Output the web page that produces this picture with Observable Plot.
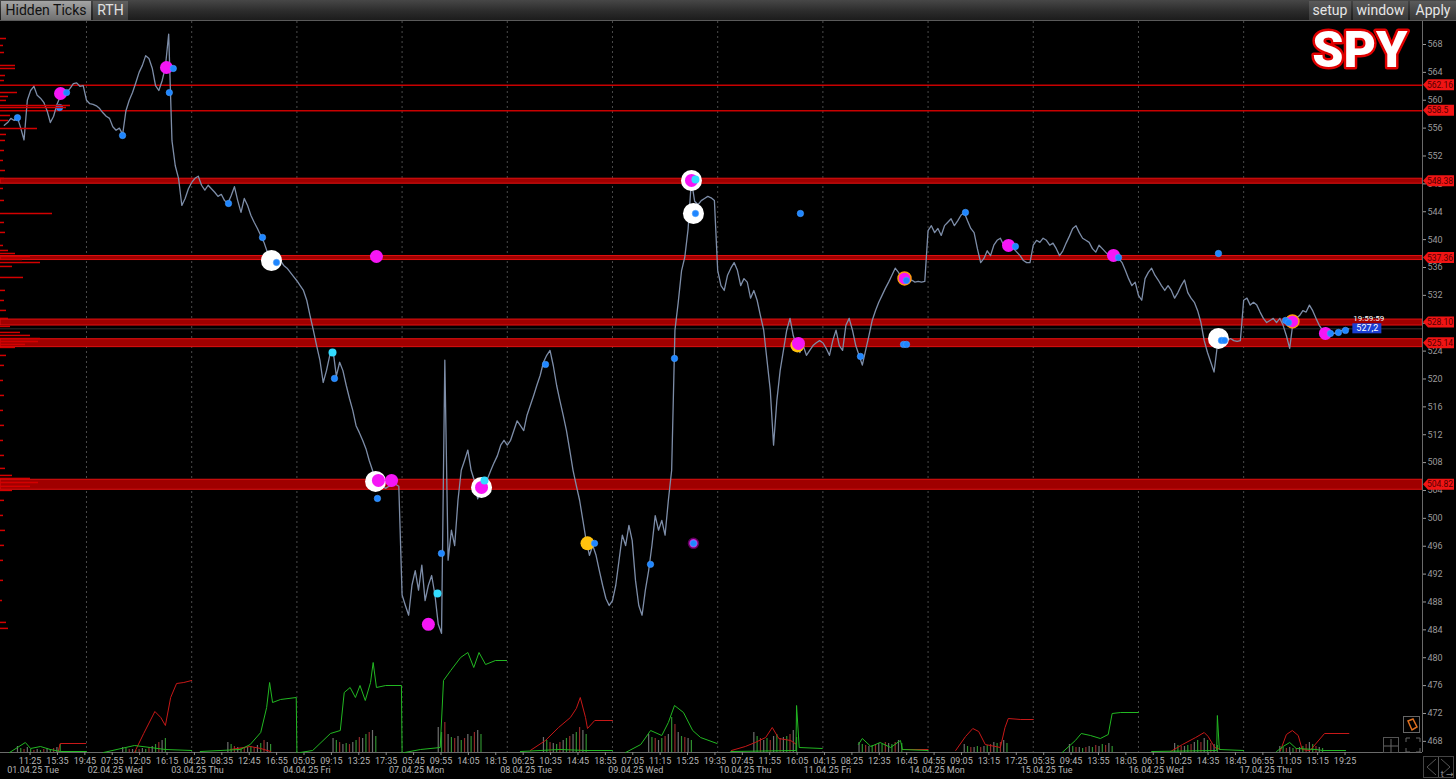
<!DOCTYPE html>
<html><head><meta charset="utf-8">
<script src="https://cdn.jsdelivr.net/npm/d3@7"></script>
<script src="https://cdn.jsdelivr.net/npm/@observablehq/plot@0.6"></script>
<style>
html,body{margin:0;padding:0;background:#000;width:1456px;height:779px;overflow:hidden;font-family:Roboto,"DejaVu Sans",sans-serif;}
#bar{position:absolute;left:0;top:0;width:1456px;height:21px;background:linear-gradient(#474747,#2c2c2c 55%,#1c1c1c);border-bottom:1px solid #5a5a5a;box-sizing:border-box;}
.tab{position:absolute;top:1px;height:19px;line-height:19px;font-size:14px;box-sizing:border-box;text-align:center;white-space:nowrap;}
#t1{left:1px;width:90px;background:linear-gradient(#a4a4a4,#707070);color:#111;}
#t2{left:93px;width:35px;background:linear-gradient(#606060,#3a3a3a);color:#e0e0e0;}
.btn{background:linear-gradient(#5a5a5a,#383838);color:#e6e6e6;}
#b1{left:1309px;width:42px;}#b2{left:1353px;width:55px;}#b3{left:1410px;width:46px;}
#chart{position:absolute;left:0;top:21px;width:1456px;height:758px;}
#chart svg{position:absolute;left:0;top:0;}
.ico{position:absolute;border:1px solid #666;box-sizing:border-box;}
</style></head>
<body>
<div id="bar">
<div class="tab" id="t1">Hidden Ticks</div>
<div class="tab" id="t2">RTH</div>
<div class="tab btn" id="b1">setup</div>
<div class="tab btn" id="b2">window</div>
<div class="tab btn" id="b3">Apply</div>
</div>
<div id="chart"></div>
<div class="ico" style="left:1403px;top:716px;width:17px;height:17px;"><svg width="15" height="15"><path d="M4 4 L9 2 L13 10 L8 13 Z" fill="none" stroke="#e07020" stroke-width="1.5"/></svg></div>
<div class="ico" style="left:1383px;top:737px;width:16px;height:16px;border-color:#555;"><svg width="14" height="14"><path d="M7 0V14M0 7H14" stroke="#666"/></svg></div>
<div style="position:absolute;left:1405px;top:737px;"><svg width="16" height="16"><path d="M1 5V1H5M11 1H15V5M15 11V15H11M5 15H1V11" fill="none" stroke="#666"/></svg></div>
<div class="ico" style="left:1423px;top:756px;width:31px;height:22px;border-color:#444;"><svg width="29" height="20"><path d="M12 2L3 10L12 18M17 2L26 10L17 18M14.5 0V20" fill="none" stroke="#555"/></svg></div>
<script>
// ---------- DATA ----------
const DAY_LABELS = ["01.04.25 Tue","02.04.25 Wed","03.04.25 Thu","04.04.25 Fri","07.04.25 Mon","08.04.25 Tue","09.04.25 Wed","10.04.25 Thu","11.04.25 Fri","14.04.25 Mon","15.04.25 Tue","16.04.25 Wed","17.04.25 Thu"];
const TICK_TIMES = [
 ["11:25","15:35","19:45"],
 ["07:55","12:05","16:15"],
 ["04:25","08:35","12:45","16:55"],
 ["05:05","09:15","13:25","17:35"],
 ["05:45","09:55","14:05","18:15"],
 ["06:25","10:35","14:45","18:55"],
 ["07:05","11:15","15:25","19:35"],
 ["07:45","11:55","16:05"],
 ["04:15","08:25","12:35","16:45"],
 ["04:55","09:05","13:15","17:25"],
 ["05:35","09:45","13:55","18:05"],
 ["06:15","10:25","14:35","18:45"],
 ["06:55","11:05","15:15","19:25"]
];
const Y_TICKS = [468,472,476,480,484,488,492,496,500,504,508,512,516,520,524,528,532,536,540,544,548,552,556,560,564,568];

// SPY price, every 30 minutes of the 04:00-20:00 session, one row per trading day
const PRICE = [
 [null,null,null,null,null,null,null,556.4,556.8,557.4,557.1,557.5,556.0,554.3,560.0,561.4,562.0,560.7,560.3,559.7,558.5,556.8,557.7,559.4,560.5,560.8,561.1,561.7,562.4,562.5,562.0,562.1],
 [560.0,559.5,559.4,559.2,558.8,558.2,557.7,557.4,556.2,555.7,556.0,555.1,558.5,560.0,561.1,562.5,564.0,565.0,566.4,566.0,564.6,562.1,561.4,562.8,564.8,569.5,554.2,550.6,548.8,544.9,545.9,547.3],
 [548.2,548.8,549.1,547.8,547.1,547.8,547.3,546.8,546.2,546.5,545.6,545.2,546.3,547.6,545.6,543.9,545.9,544.9,543.5,542.5,541.6,540.6,539.6,538.2,537.3,536.7,537.3,537.0,536.3,535.9,535.3,534.7],
 [534.1,533.4,532.7,531.3,529.1,527.0,524.8,522.7,519.5,521.2,523.4,524.1,520.4,522.4,521.2,519.1,517.2,515.5,513.3,512.3,511.2,510.0,508.3,506.9,505.2,504.0,504.6,504.3,504.6,504.7,504.9,504.6],
 [489.0,487.5,486.1,490.4,492.5,489.7,493.3,488.2,490.4,491.8,489.0,484.8,483.5,522.7,494.0,498.3,496.1,502.6,506.9,508.3,509.8,506.9,505.4,502.8,504.2,503.5,505.7,506.9,508.0,509.0,510.5,511.2],
 [510.5,511.2,512.6,514.0,513.3,512.6,514.8,516.2,517.6,519.1,520.5,522.4,523.4,524.1,521.9,519.1,516.9,514.8,512.6,509.8,506.9,504.7,502.6,499.7,496.8,494.7,496.1,494.7,492.5,490.4,488.5,487.5],
 [488.2,490.4,494.0,497.6,496.1,499.0,496.8,491.1,487.5,486.1,489.7,492.5,496.1,500.4,498.3,499.7,497.6,502.6,506.9,527.0,531.0,535.5,537.5,541.5,548.5,545.5,545.0,545.6,545.9,546.2,546.0,545.6],
 [535.6,533.4,532.7,534.9,535.9,536.7,535.6,533.4,534.4,533.9,531.6,532.7,531.3,529.1,527.0,522.7,518.4,510.5,516.9,521.2,524.1,527.0,528.7,526.2,524.8,523.8,524.8,523.4,524.1,524.8,525.2,525.5],
 [525.2,524.4,523.4,525.5,527.0,524.8,524.1,527.7,528.7,527.0,524.8,523.4,522.0,524.1,526.2,528.4,529.8,531.0,532.0,533.0,533.9,534.9,535.9,535.3,534.4,533.9,533.7,534.2,533.9,534.0,533.9,534.0],
 [541.3,542.0,541.0,541.6,540.6,542.0,542.5,543.0,542.0,542.7,543.5,543.9,542.7,541.6,541.0,538.7,536.7,537.3,538.4,537.7,539.2,539.9,540.2,539.2,538.7,539.2,538.7,538.2,537.7,537.0,536.7,536.7],
 [539.2,539.9,539.6,540.2,539.9,539.2,539.5,538.7,537.7,538.4,539.5,540.5,541.6,542.0,541.0,540.2,539.9,539.6,538.7,538.2,539.2,538.7,538.2,537.7,537.9,537.6,537.3,536.7,535.6,534.4,533.4,533.9],
 [532.0,531.3,534.4,535.3,535.9,534.9,534.2,533.4,532.7,533.4,532.7,531.6,532.4,533.4,534.2,532.4,531.6,531.0,529.8,528.1,525.5,523.8,522.4,521.0,524.8,525.5,525.8,525.5,525.8,525.5,525.4,525.5],
 [531.3,531.6,530.6,531.0,530.6,529.6,528.7,528.1,528.4,528.7,528.1,528.7,527.7,526.2,524.4,528.1,528.7,529.1,529.8,529.6,530.6,529.8,528.7,527.7,527.0,527.3,527.0,526.5,526.6,526.8,527.0,527.2,527.2]
];
const LAST_TIME = "19:59:59";
const LAST_PRICE = 527.2;

// horizontal levels (value, half-width of the zone)
const LEVELS = [562.16, 558.5, 548.38, 537.36, 528.10, 525.14, 504.82];
const LEVEL_HALF = [0.1, 0.1, 0.36, 0.29, 0.43, 0.57, 0.72];
const LEVEL_LABELS = ["562.16","558.5","548.38","537.36","528.10","525.14","504.82"];

// cumulative delta lines in the lower panel: [day, time, value]
const GREEN = [
 [0,"08:18",0],[0,"10:42",10],[0,"11:30",4],[0,"13:00",6],[0,"14:30",3],[0,"16:00",1],[0,"20:00",1],
 [1,"06:36",0],[1,"11:18",7],[1,"13:42",5],[1,"16:00",3],[1,"20:00",2],
 [2,"05:18",1],[2,"11:24",3],[2,"12:54",8],[2,"14:30",20],[2,"15:24",45],[2,"15:51",70],[2,"16:18",50],[2,"17:30",53],[2,"19:54",55],[2,"20:00",0],
 [3,"04:30",0],[3,"06:24",2],[3,"09:06",19],[3,"10:36",22],[3,"11:12",60],[3,"12:06",65],[3,"12:54",55],[3,"13:36",67],[3,"14:24",52],[3,"15:12",70],[3,"15:36",90],[3,"16:06",65],[3,"17:30",67],[3,"19:54",67],[3,"20:00",0],
 [4,"04:24",0],[4,"06:48",3],[4,"09:48",5],[4,"10:18",72],[4,"11:24",82],[4,"12:54",95],[4,"14:00",100],[4,"14:54",85],[4,"15:42",100],[4,"16:42",88],[4,"18:12",92],[4,"19:54",92],
 [5,"06:00",1],[5,"12:00",3],[5,"16:00",2],[5,"20:00",2],
 [6,"06:00",0],[6,"08:18",8],[6,"09:48",22],[6,"11:30",17],[6,"12:30",30],[6,"13:26",47],[6,"14:48",40],[6,"16:12",22],[6,"17:24",15],[6,"19:54",9],
 [7,"06:00",1],[7,"15:54",2],[7,"16:00",47],[7,"16:24",5],[7,"19:54",4],
 [8,"09:24",8],[8,"10:00",14],[8,"11:18",6],[8,"12:42",10],[8,"14:18",5],[8,"15:48",12],[8,"16:06",3],[8,"20:00",2],
 [10,"08:24",0],[10,"10:24",12],[10,"11:18",19],[10,"12:42",17],[10,"14:12",14],[10,"15:24",18],[10,"16:00",39],[10,"17:18",40],[10,"20:00",40],
 [11,"06:00",1],[11,"15:54",2],[11,"16:00",37],[11,"16:18",3],[11,"20:00",2],
 [12,"09:00",1],[12,"10:00",6],[12,"11:00",10],[12,"12:00",4],[12,"15:00",3],[12,"16:00",2],[12,"19:30",2]
];
const RED = [
 [0,"15:42",1],[0,"16:00",9],[0,"19:54",9],
 [1,"11:18",0],[1,"12:42",19],[1,"14:24",41],[1,"15:18",35],[1,"16:00",27],[1,"16:48",55],[1,"17:42",69],[1,"18:48",70],[1,"20:00",72],
 [2,"09:54",3],[2,"12:54",6],[2,"14:30",4],[2,"16:00",1],
 [5,"07:30",2],[5,"09:48",12],[5,"11:48",25],[5,"13:36",35],[5,"14:30",44],[5,"15:06",55],[5,"15:54",35],[5,"16:12",24],[5,"17:18",32],[5,"20:00",32],
 [7,"06:06",2],[7,"08:12",6],[7,"09:42",10],[7,"11:18",15],[7,"12:18",25],[7,"13:18",14],[7,"15:06",12],[7,"16:00",8],
 [8,"16:06",3],[8,"20:00",3],
 [9,"08:12",2],[9,"09:42",16],[9,"10:48",24],[9,"11:42",21],[9,"12:42",8],[9,"15:00",5],[9,"15:42",25],[9,"16:12",34],[9,"18:06",33],[9,"20:00",33],
 [11,"08:54",1],[11,"10:42",8],[11,"12:42",15],[11,"14:00",20],[11,"14:36",16],[11,"15:36",5],[11,"16:30",3],
 [12,"09:36",2],[12,"10:30",18],[12,"11:24",22],[12,"12:18",17],[12,"12:54",3],[12,"14:06",2],[12,"16:18",19],[12,"20:00",19]
];
// regular-session volume per 30 minutes (09:30 ... 16:00), one row per day
const VOL_BARS = [
 [6,4,3,5,3,2,3,2,3,4,3,4,5,8],
 [5,4,3,3,2,3,4,3,5,6,8,10,12,14],
 [10,8,6,5,4,4,5,6,5,7,9,12,10,8],
 [14,12,10,8,9,8,10,12,15,14,18,20,22,16],
 [25,20,30,18,15,14,16,12,14,18,16,20,22,18],
 [15,12,10,9,8,10,12,14,16,18,20,25,22,18],
 [18,15,14,12,14,16,18,35,28,20,16,15,14,12],
 [20,16,14,12,14,12,16,18,14,15,16,18,22,15],
 [10,8,7,6,7,8,9,8,10,9,8,10,12,9],
 [8,6,5,5,6,5,6,7,8,10,9,10,12,9],
 [8,6,5,5,4,5,6,5,7,6,8,7,9,6],
 [9,7,6,6,7,8,10,12,10,14,12,9,8,7],
 [6,5,4,5,4,4,5,6,8,10,8,6,5,4]
];

// signal markers: [kind, day, time, price]
const MARKERS = [
 ["white",2,"16:08",537.0],["white",3,"15:58",505.3],["white",4,"16:05",504.44],["white",6,"16:01",548.49],["white",6,"16:19",543.75],["white",11,"16:10",525.82],
 ["yellow",5,"16:12",496.41],["yellow",7,"16:08",524.82],
 ["magenta",0,"16:03",560.97],["magenta",1,"16:10",564.7],["magenta",3,"16:06",537.58],["magenta",3,"16:24",505.45],["magenta",3,"18:24",505.45],
 ["magenta",4,"08:00",484.79],["magenta",4,"16:05",504.44],["magenta",6,"16:01",548.49],["magenta",7,"16:17",525.1],
 ["magenta",9,"16:14",539.16],["magenta",10,"16:12",537.73],["magenta",12,"16:26",526.54],
 ["magentaRing",8,"16:25",534.43],["magentaRing",12,"11:25",528.26],
 ["magentaDark",6,"16:19",496.41],
 ["cyan",3,"09:25",523.81],["cyan",4,"09:23",489.23],["cyan",4,"16:32",505.45],["cyan",6,"16:37",548.63],
 ["blue",0,"09:30",557.5],["blue",0,"16:58",561.1],["blue",0,"15:54",558.96],
 ["blue",1,"09:29",554.94],["blue",1,"17:12",564.56],["blue",1,"16:36",561.1],
 ["blue",2,"09:36",545.19],["blue",2,"14:46",540.31],["blue",2,"16:54",536.72],
 ["blue",3,"09:43",520.08],["blue",3,"16:15",502.86],
 ["blue",4,"09:59",494.97],
 ["blue",5,"09:49",522.09],["blue",5,"17:16",496.41],
 ["blue",6,"09:47",493.4],["blue",6,"13:26",522.95],["blue",6,"16:37",543.75],["blue",6,"16:19",496.41],
 ["blue",7,"16:35",543.75],
 ["blue",8,"09:43",523.24],["blue",8,"16:42",534.14],["blue",8,"16:16",524.96],["blue",8,"16:43",524.96],
 ["blue",9,"09:41",543.9],["blue",9,"17:17",539.02],
 ["blue",10,"16:58",537.44],
 ["blue",11,"16:10",538.01],["blue",11,"16:37",525.53],["blue",11,"17:05",525.53],
 ["blue",12,"10:22",528.4],["blue",12,"10:49",528.1],["blue",12,"17:12",526.54],["blue",12,"18:25",526.68],["blue",12,"19:29",526.97]
];

// volume profile on the left edge
const PROFILE_PRICE = [568.86,567.86,566.85,564.99,564.56,563.55,562.83,561.11,560.54,559.97,559.25,558.96,557.81,557.10,555.95,555.09,554.23,552.79,551.36,549.92,548.77,547.34,545.62,543.75,542.46,541.03,539.16,538.44,538.01,537.58,537.15,536.72,536.15,534.57,532.71,531.27,529.84,528.69,527.54,526.68,526.25,525.82,525.39,524.96,524.53,523.38,521.95,519.79,517.64,515.49,513.34,511.18,509.03,507.17,506.16,505.73,505.16,504.59,504.01,502.58,500.42,498.27,496.12,493.97,491.10,488.23,485.07,484.21];
const PROFILE_VOL = [6,3,4,15,15,5,4,17,8,6,70,66,10,8,37,6,5,4,3,5,4,3,4,52,4,5,3,8,15,30,22,40,12,23,5,4,6,8,10,20,30,40,38,25,15,6,4,3,4,3,4,3,4,5,12,30,38,30,12,4,3,5,4,3,3,2,6,8];

// ---------- BUILD ----------
const SESSION_START = 4, SESSION_HOURS = 16;
function tt(day, hhmm) {
  const [h, m, s] = hhmm.split(":").map(Number);
  return day + (h + m / 60 + (s || 0) / 3600 - SESSION_START) / SESSION_HOURS;
}
const priceData = [];
PRICE.forEach((row, d) => row.forEach((p, j) => { if (p != null) priceData.push({t: d + (j * 0.5) / SESSION_HOURS, p}); }));
const tickData = [];
TICK_TIMES.forEach((row, d) => row.forEach((s, i) => tickData.push({t: tt(d, s), label: s, date: i === 0 ? DAY_LABELS[d] : ""})));
const daySeps = DAY_LABELS.slice(1).map((_, i) => i + 1);
const levels = LEVELS.map((v, i) => ({v, h: LEVEL_HALF[i], label: LEVEL_LABELS[i]}));
const thin = levels.filter(d => d.h <= 0.1), bands = levels.filter(d => d.h > 0.1);
const toSeries = arr => arr.map(([d, s, v]) => ({d, t: tt(d, s), v}));
const green = toSeries(GREEN), red = toSeries(RED);
const volBars = [];
VOL_BARS.forEach((row, d) => row.forEach((v, i) => volBars.push({t: d + (5.5 + 0.5 * i) / SESSION_HOURS, v, c: i % 3})));
const markers = MARKERS.map(([k, d, s, p]) => ({k, t: tt(d, s), p}));
const byKind = k => markers.filter(m => m.k === k);
const profile = PROFILE_PRICE.map((p, i) => ({p, v: PROFILE_VOL[i]}));

const W = 1456, H = 758, MR = 34, MB = 27;
const xDomain = [0.1825, 13.70];
const yDomain = [466.4, 571.3];
const FONT = "Roboto, 'DejaVu Sans', sans-serif";

const main = Plot.plot({
  width: W, height: H, marginLeft: 0, marginRight: MR, marginTop: 0, marginBottom: MB,
  x: {domain: xDomain}, y: {domain: yDomain},
  style: {background: "#000", color: "#a8a8a8", fontFamily: FONT, fontSize: "9px", overflow: "visible"},
  marks: [
    Plot.ruleX(daySeps, {stroke: "#4a4a4a", strokeDasharray: "2,3"}),
    Plot.ruleY([LAST_PRICE], {stroke: "#2e2e2e"}),
    Plot.ruleY(thin, {y: "v", stroke: "#c80000", strokeWidth: 1.5}),
    Plot.rect(bands, {y1: d => d.v - d.h, y2: d => d.v + d.h, fill: "#a00000", stroke: "#e01010", strokeWidth: 1}),
    Plot.line(priceData, {x: "t", y: "p", stroke: "#7d8da8", strokeWidth: 1.3}),
    Plot.dot(byKind("white"), {x: "t", y: "p", r: 10.5, fill: "#ffffff"}),
    Plot.dot(byKind("yellow"), {x: "t", y: "p", r: 7, fill: "#ffc20e"}),
    Plot.dot(byKind("magenta"), {x: "t", y: "p", r: 6.5, fill: "#f516f5"}),
    Plot.dot(byKind("magentaRing"), {x: "t", y: "p", r: 6.5, fill: "#f516f5", stroke: "#ff9a10", strokeWidth: 1.5}),
    Plot.dot(byKind("magentaDark"), {x: "t", y: "p", r: 5, fill: "#d618d6", stroke: "#5a005a", strokeWidth: 1.5}),
    Plot.dot(byKind("cyan"), {x: "t", y: "p", r: 4, fill: "#33dcff"}),
    Plot.dot(byKind("blue"), {x: "t", y: "p", r: 3.2, fill: "#1f86ff", stroke: "#4aa0ff", strokeWidth: 0.6}),
    Plot.ruleX([xDomain[1]], {stroke: "#6a6a6a"}),
    Plot.ruleY([yDomain[0]], {stroke: "#6a6a6a"}),
    Plot.axisY({anchor: "right", ticks: Y_TICKS, tickSize: 3, tickPadding: 2, color: "#9a9a9a", fontSize: 9}),
    Plot.axisX({ticks: tickData.map(d => d.t), tickSize: 3, tickFormat: () => "", color: "#8a8a8a"}),
    Plot.text(tickData, {x: "t", text: "label", frameAnchor: "bottom", dy: 11, fill: "#b4b4b4", fontSize: 9}),
    Plot.text(tickData, {x: "t", text: "date", frameAnchor: "bottom", dy: 20, dx: 3, fill: "#b4b4b4", fontSize: 9}),
    Plot.text(["SPY"], {frameAnchor: "top-right", dx: -15, dy: 10, lineAnchor: "top", fontSize: 50, fontWeight: 900,
      fill: "#ffffff", stroke: "#e00000", strokeWidth: 5, paintOrder: "stroke"})
  ]
});

const vol = Plot.plot({
  width: W, height: H, marginLeft: 0, marginRight: MR, marginTop: 0, marginBottom: MB,
  x: {domain: xDomain, axis: null}, y: {domain: [0, 100], range: [H - MB, H - MB - 100], axis: null},
  color: {domain: [0, 1, 2], range: ["#6e6e6e", "#2f8f2f", "#8f2a2a"]},
  style: {background: "transparent", overflow: "visible"},
  marks: [
    Plot.ruleX(volBars, {x: "t", y1: 0, y2: "v", stroke: "c", strokeWidth: 1.2}),
    Plot.line(red, {x: "t", y: "v", z: "d", stroke: "#c81818", strokeWidth: 1}),
    Plot.line(green, {x: "t", y: "v", z: "d", stroke: "#22b822", strokeWidth: 1})
  ]
});

const prof = Plot.plot({
  width: W, height: H, marginLeft: 0, marginRight: MR, marginTop: 0, marginBottom: MB,
  x: {domain: [0, 100], range: [0, 100], axis: null}, y: {domain: yDomain, axis: null},
  style: {background: "transparent", overflow: "visible"},
  marks: [Plot.ruleY(profile, {x1: 0, x2: "v", y: "p", stroke: "#d40000", strokeWidth: 1.5})]
});

const root = document.getElementById("chart");
root.append(main, vol, prof);
[vol, prof].forEach(s => s.style.pointerEvents = "none");

// level tags and last-price tag on the right, placed with the plot's own scales
const ys = main.scale("y"), xs = main.scale("x");
const xr = W - MR;
const g = d3.select(main).append("g").attr("font-family", FONT).attr("font-size", 8.5).attr("text-anchor", "start");
levels.forEach(d => {
  const y = ys.apply(d.v);
  g.append("path").attr("d", `M${xr + 1},${y} L${xr + 6},${y - 5.5} L${xr + 32},${y - 5.5} L${xr + 32},${y + 5.5} L${xr + 6},${y + 5.5} Z`).attr("fill", "#f01414");
  g.append("text").attr("x", xr + 5).attr("y", y + 3.1).attr("fill", "#520000").text(d.label);
});
const lx = xs.apply(tt(12, LAST_TIME)), ly = ys.apply(LAST_PRICE);
g.append("rect").attr("x", lx + 4).attr("y", ly - 5).attr("width", 29).attr("height", 10).attr("fill", "#1b3fd4");
g.append("text").attr("x", lx + 8).attr("y", ly + 3.1).attr("fill", "#ffffff").attr("font-size", 9).text(String(LAST_PRICE).replace(".", ","));
g.append("text").attr("x", lx + 5).attr("y", ly - 7).attr("fill", "#ffffff").attr("font-size", 8).text(LAST_TIME);
</script>
</body></html>
